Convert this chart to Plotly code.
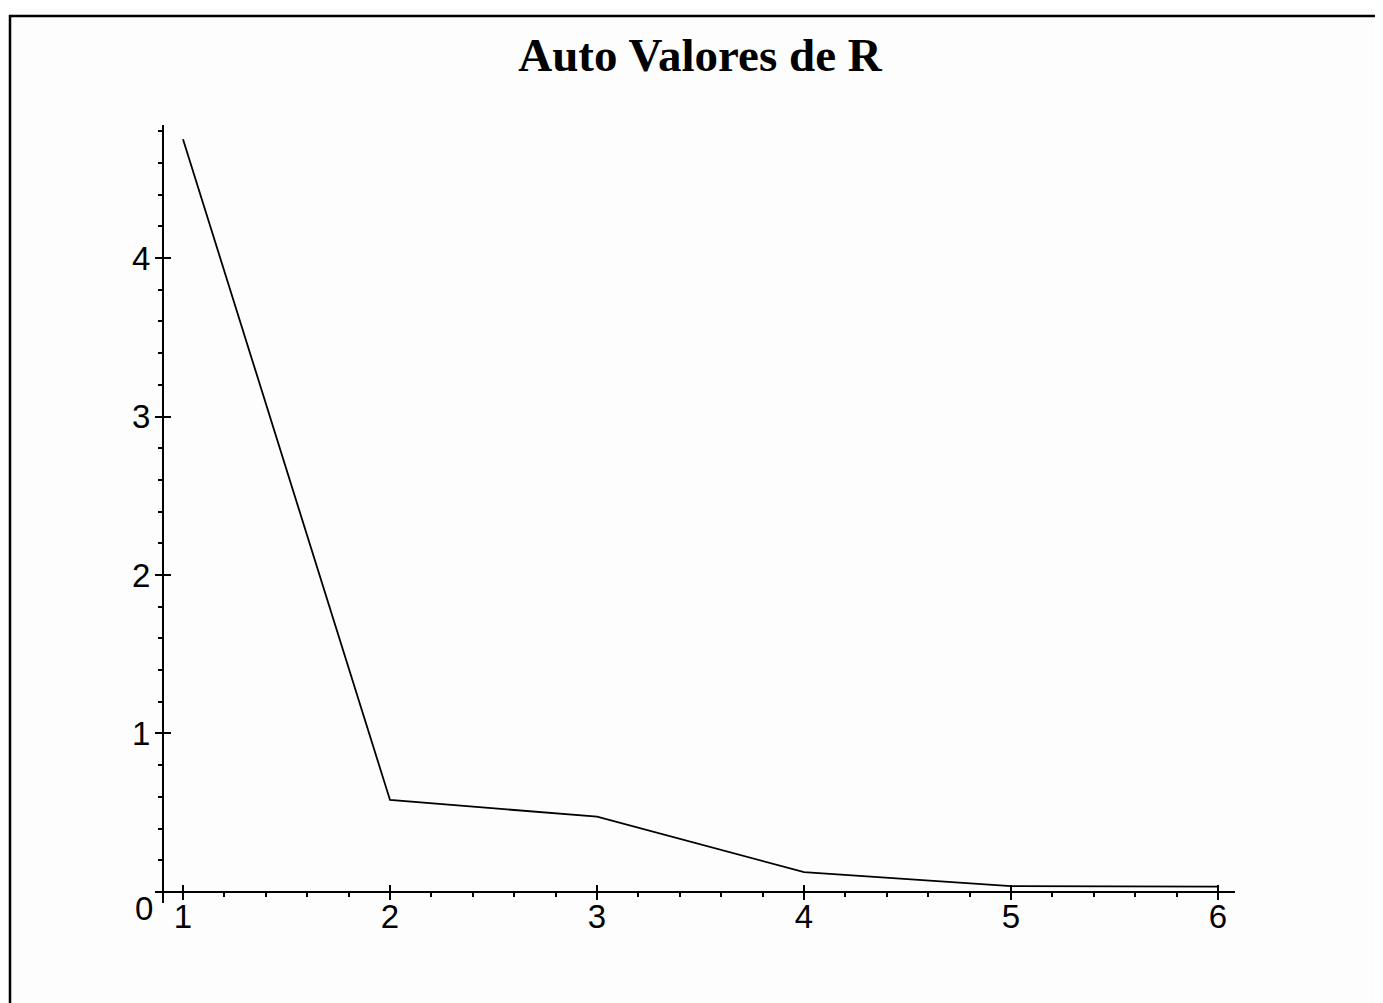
import plotly.graph_objects as go

# ---- data ----
x_vals = [1, 2, 3, 4, 5, 6]
eigenvalues = [4.75, 0.58, 0.475, 0.125, 0.037, 0.033]
x_ticks = [1, 2, 3, 4, 5, 6]
y_ticks = [1, 2, 3, 4]
title_text = "Auto Valores de R"

# ---- layout constants (page has an 8px body margin) ----
OFF = 8
W, H = 1383 - OFF, 1003 - OFF
L, T = 155 - OFF, 125 - OFF
PW, PH = 1080, 778
R = W - L - PW
B = H - T - PH
X_RANGE = [0.8647, 6.082]
Y_RANGE = [-0.07, 4.84]
X_CROSS = 0.903          # x value where the vertical axis is drawn

ypos_frac = (X_CROSS - X_RANGE[0]) / (X_RANGE[1] - X_RANGE[0])
xpos_frac = (0 - Y_RANGE[0]) / (Y_RANGE[1] - Y_RANGE[0])

tick_font = dict(family="Liberation Sans, Arial, sans-serif", size=33, color="black")

fig = go.Figure()
fig.add_trace(go.Scatter(x=x_vals, y=eigenvalues, mode="lines",
                         line=dict(color="black", width=1.8), showlegend=False,
                         hoverinfo="skip"))
# invisible trace to activate overlay axes (crossing tick marks)
fig.add_trace(go.Scatter(x=[x_vals[0]], y=[eigenvalues[0]], mode="lines",
                         xaxis="x2", yaxis="y2", showlegend=False,
                         line=dict(color="rgba(0,0,0,0)"), hoverinfo="skip"))

fig.update_layout(
    width=W, height=H,
    margin=dict(l=L, r=R, t=T, b=B, pad=0),
    paper_bgcolor="#fdfdfd", plot_bgcolor="rgba(0,0,0,0)",
    title=dict(text="<b>" + title_text + "</b>",
               font=dict(family="Liberation Serif, Times New Roman, serif", size=47, color="black"),
               x=(700 - OFF - L) / PW, xref="paper", xanchor="center",
               y=1 - (55 - OFF) / H, yref="container", yanchor="middle"),
    xaxis=dict(range=X_RANGE, anchor="free", position=xpos_frac,
               showgrid=False, zeroline=False, showline=True, linecolor="black", linewidth=2,
               tickmode="array", tickvals=x_ticks, ticktext=[str(v) for v in x_ticks],
               ticks="outside", ticklen=7, tickwidth=2, tickcolor="black",
               tickfont=tick_font, ticklabelstandoff=-12,
               minor=dict(dtick=0.2, tick0=0, ticks="outside", ticklen=4, tickwidth=2,
                          tickcolor="black", showgrid=False)),
    yaxis=dict(range=Y_RANGE, anchor="free", position=ypos_frac,
               showgrid=False, zeroline=False, showline=True, linecolor="black", linewidth=2,
               tickmode="array", tickvals=y_ticks, ticktext=[str(v) for v in y_ticks],
               ticks="outside", ticklen=7, tickwidth=2, tickcolor="black",
               tickfont=tick_font, ticklabelstandoff=-2,
               minor=dict(dtick=0.2, tick0=0, ticks="outside", ticklen=4, tickwidth=2,
                          tickcolor="black", showgrid=False)),
    xaxis2=dict(range=X_RANGE, overlaying="x", anchor="free", position=xpos_frac,
                showgrid=False, zeroline=False, showline=False,
                tickmode="array", tickvals=x_ticks, showticklabels=False,
                ticks="inside", ticklen=7, tickwidth=2, tickcolor="black"),
    yaxis2=dict(range=Y_RANGE, overlaying="y", anchor="free", position=ypos_frac,
                showgrid=False, zeroline=False, showline=False,
                tickmode="array", tickvals=y_ticks, showticklabels=False,
                ticks="inside", ticklen=7, tickwidth=2, tickcolor="black"),
)

# "0" label of the origin
fig.add_annotation(x=X_CROSS, y=0, xref="x", yref="y", text="0", showarrow=False,
                   xanchor="right", yanchor="top", xshift=-8, yshift=4,
                   font=tick_font)

# outer frame
fx = lambda px: (px - OFF - L) / PW
fy = lambda py: (H - B - (py - OFF)) / PH
fig.add_shape(type="path", xref="paper", yref="paper",
              path=f"M {fx(10)} {fy(1003 + 20)} L {fx(10)} {fy(16)} L {fx(1383 + 20)} {fy(16)}",
              line=dict(color="black", width=2.5))

fig.write_html("out.html")
